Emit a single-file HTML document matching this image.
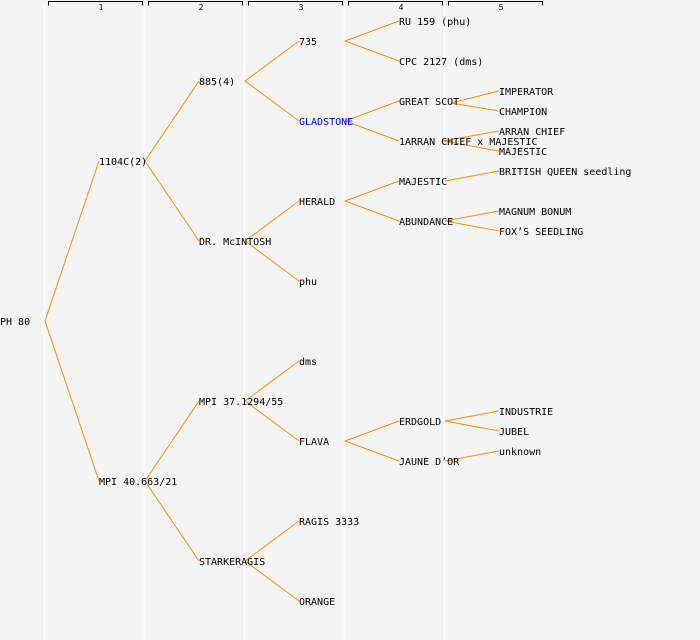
<!DOCTYPE html>
<html><head><style>html,body{margin:0;padding:0;background:#f4f4f4;}svg{display:block}</style></head>
<body>
<svg width="700" height="640" xmlns="http://www.w3.org/2000/svg" font-family="DejaVu Sans Mono, Liberation Mono, monospace" font-size="10">
<rect width="700" height="640" fill="#f4f4f4"/>
<g stroke="#ffffff" stroke-width="1.5">
<line x1="44.5" y1="4" x2="44.5" y2="640"/><line x1="144.5" y1="4" x2="144.5" y2="640"/>
<line x1="244.5" y1="4" x2="244.5" y2="640"/><line x1="344.5" y1="4" x2="344.5" y2="640"/>
<line x1="444.5" y1="4" x2="444.5" y2="640"/>
</g>
<g stroke="#000" fill="none" stroke-width="1">
<path d="M48.5,5.5V1.5H142.5V5.5"/><path d="M148.5,5.5V1.5H242.5V5.5"/><path d="M248.5,5.5V1.5H342.5V5.5"/><path d="M348.5,5.5V1.5H442.5V5.5"/><path d="M448.5,5.5V1.5H542.5V5.5"/>
</g>
<g font-size="8" text-anchor="middle" fill="#000">
<text x="101" y="10">1</text><text x="201" y="10">2</text><text x="301" y="10">3</text><text x="401" y="10">4</text><text x="501" y="10">5</text>
</g>
<g stroke="#ff8c00" stroke-width="1" fill="none">
<path d="M99,161L45,321L99,481"/>
<path d="M199,81L145,161L199,241"/>
<path d="M199,401L145,481L199,561"/>
<path d="M299,41L245,81L299,121"/>
<path d="M299,201L245,241L299,281"/>
<path d="M299,361L245,401L299,441"/>
<path d="M299,521L245,561L299,601"/>
<path d="M399,21L345,41L399,61"/>
<path d="M399,101L345,121L399,141"/>
<path d="M399,181L345,201L399,221"/>
<path d="M399,421L345,441L399,461"/>
<path d="M499,91L451,103L499,111"/>
<path d="M499,131L443,141L499,151"/>
<path d="M499,171L445,181"/>
<path d="M499,211L445,221L499,231"/>
<path d="M499,411L445,421L499,431"/>
<path d="M499,451L445,461"/>
</g>
<g fill="#000">
<text x="0" y="325">PH 80</text>
<text x="99" y="165">1104C(2)</text>
<text x="99" y="485">MPI 40.663/21</text>
<text x="199" y="85">885(4)</text>
<text x="199" y="245">DR. McINTOSH</text>
<text x="199" y="405">MPI 37.1294/55</text>
<text x="199" y="565">STARKERAGIS</text>
<text x="299" y="45">735</text>
<text x="299" y="125" fill="#0000ff">GLADSTONE</text>
<text x="299" y="205">HERALD</text>
<text x="299" y="285">phu</text>
<text x="299" y="365">dms</text>
<text x="299" y="445">FLAVA</text>
<text x="299" y="525">RAGIS 3333</text>
<text x="299" y="605">ORANGE</text>
<text x="399" y="25">RU 159 (phu)</text>
<text x="399" y="65">CPC 2127 (dms)</text>
<text x="399" y="105">GREAT SCOT</text>
<text x="399" y="145">1ARRAN CHIEF x MAJESTIC</text>
<text x="399" y="185">MAJESTIC</text>
<text x="399" y="225">ABUNDANCE</text>
<text x="399" y="425">ERDGOLD</text>
<text x="399" y="465">JAUNE D’OR</text>
<text x="499" y="95">IMPERATOR</text>
<text x="499" y="115">CHAMPION</text>
<text x="499" y="135">ARRAN CHIEF</text>
<text x="499" y="155">MAJESTIC</text>
<text x="499" y="175">BRITISH QUEEN seedling</text>
<text x="499" y="215">MAGNUM BONUM</text>
<text x="499" y="235">FOX’S SEEDLING</text>
<text x="499" y="415">INDUSTRIE</text>
<text x="499" y="435">JUBEL</text>
<text x="499" y="455">unknown</text>
</g>
</svg>
</body></html>
